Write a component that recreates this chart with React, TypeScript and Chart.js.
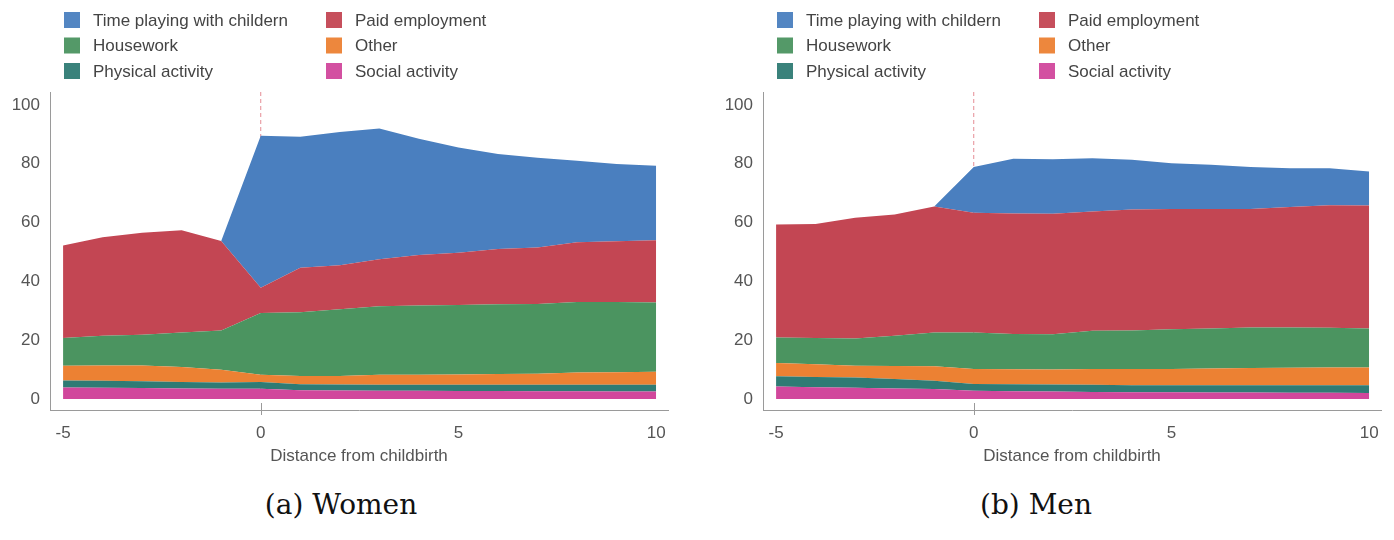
import React, { useEffect, useRef } from "react";
import { Chart, registerables } from "chart.js";

Chart.register(...registerables);

// ---------- data ----------
const years = [-5, -4, -3, -2, -1, 0, 1, 2, 3, 4, 5, 6, 7, 8, 9, 10];
const xTicks = [-5, 0, 5, 10];
const yTicks = [0, 20, 40, 60, 80, 100];
const xTitle = "Distance from childbirth";

// stacking order, bottom to top
const seriesNames = [
  "Social activity",
  "Physical activity",
  "Other",
  "Housework",
  "Paid employment",
  "Time playing with childern",
];
const seriesColors = ["#d1479c", "#2f7b74", "#ec8133", "#4b9460", "#c34653", "#4a7fbf"];

// legend order (two columns, row-major)
const legendOrder = [
  "Time playing with childern",
  "Paid employment",
  "Housework",
  "Other",
  "Physical activity",
  "Social activity",
];

// Women
const womenSocial = [3.9, 3.8, 3.7, 3.6, 3.5, 3.5, 3.0, 2.9, 2.8, 2.8, 2.7, 2.7, 2.6, 2.6, 2.5, 2.5];
const womenPhysical = [2.4, 2.4, 2.3, 2.2, 2.1, 2.3, 2.0, 2.0, 2.0, 2.0, 2.1, 2.1, 2.2, 2.2, 2.3, 2.3];
const womenOther = [5.0, 5.2, 5.4, 5.1, 4.3, 2.4, 2.8, 2.9, 3.4, 3.4, 3.5, 3.7, 3.8, 4.2, 4.3, 4.5];
const womenHousework = [9.4, 10.1, 10.4, 11.7, 13.4, 21.0, 21.7, 22.7, 23.3, 23.6, 23.7, 23.7, 23.7, 24.0, 23.9, 23.5];
const womenPaid = [31.5, 33.5, 34.7, 34.8, 30.4, 8.6, 15.1, 15.0, 16.0, 17.2, 17.7, 18.8, 19.2, 20.3, 20.6, 21.2];
const womenPlaying = [0, 0, 0, 0, 0, 51.7, 44.6, 45.3, 44.5, 39.5, 35.8, 32.3, 30.5, 27.7, 26.3, 25.3];

// Men
const menSocial = [4.2, 4.0, 3.8, 3.6, 3.4, 2.8, 2.6, 2.5, 2.4, 2.3, 2.3, 2.2, 2.2, 2.1, 2.1, 2.0];
const menPhysical = [3.5, 3.5, 3.5, 3.2, 2.8, 2.3, 2.4, 2.4, 2.4, 2.4, 2.4, 2.5, 2.5, 2.6, 2.6, 2.7];
const menOther = [4.5, 4.3, 4.0, 4.4, 4.9, 5.1, 5.1, 5.1, 5.4, 5.5, 5.5, 5.7, 5.8, 5.9, 6.0, 6.0];
const menHousework = [8.7, 8.9, 9.3, 10.3, 11.5, 12.4, 12.0, 12.0, 13.0, 13.1, 13.5, 13.6, 13.8, 13.7, 13.5, 13.3];
const menPaid = [38.4, 38.8, 41.0, 41.2, 42.9, 40.7, 41.0, 41.0, 40.6, 41.1, 40.9, 40.6, 40.3, 41.0, 41.7, 41.8];
const menPlaying = [0, 0, 0, 0, 0, 15.6, 18.6, 18.5, 18.1, 17.0, 15.6, 15.1, 14.3, 13.2, 12.6, 11.6];

const womenSeries = [womenSocial, womenPhysical, womenOther, womenHousework, womenPaid, womenPlaying];
const menSeries = [menSocial, menPhysical, menOther, menHousework, menPaid, menPlaying];

// ---------- styling ----------
const SANS = "'Liberation Sans', Arial, Helvetica, sans-serif";
const TEXT = "#555555";
const CANVAS_W = 690;
const CANVAS_H = 475;

const decorPlugin = {
  id: "decor",
  beforeDatasetsDraw(chart: any) {
    const { ctx, chartArea, scales } = chart;
    const x0 = scales.x.getPixelForValue(0);
    const yZero = scales.y.getPixelForValue(0);
    ctx.save();
    ctx.strokeStyle = "#e58c94";
    ctx.lineWidth = 1;
    ctx.setLineDash([4, 3]);
    ctx.beginPath();
    ctx.moveTo(x0, chartArea.top);
    ctx.lineTo(x0, yZero);
    ctx.stroke();
    ctx.restore();
  },
  afterDraw(chart: any) {
    const { ctx, chartArea, scales } = chart;
    const x0 = scales.x.getPixelForValue(0);
    ctx.save();
    // small tick at zero
    ctx.strokeStyle = "#9a9a9a";
    ctx.lineWidth = 1;
    ctx.beginPath();
    ctx.moveTo(Math.round(x0) + 0.5, chartArea.bottom - 7);
    ctx.lineTo(Math.round(x0) + 0.5, chartArea.bottom + 5);
    ctx.stroke();

    // legend
    const colX = [chartArea.left + 14, chartArea.left + 276];
    const rowY = [20, 45.5, 71];
    ctx.font = `17px ${SANS}`;
    ctx.textBaseline = "middle";
    ctx.textAlign = "left";
    legendOrder.forEach((name, i) => {
      const c = i % 2;
      const r = Math.floor(i / 2);
      const idx = seriesNames.indexOf(name);
      ctx.fillStyle = seriesColors[idx];
      ctx.globalAlpha = 0.95;
      ctx.fillRect(colX[c], rowY[r] - 8, 16, 16);
      ctx.globalAlpha = 1;
      ctx.fillStyle = "#444444";
      ctx.fillText(name, colX[c] + 29, rowY[r] + 1);
    });
    ctx.restore();
  },
};

function StackedPanel({
  series,
  left,
  caption,
  captionCenter,
}: {
  series: number[][];
  left: number;
  caption: string;
  captionCenter: number;
}) {
  const ref = useRef<HTMLCanvasElement | null>(null);

  useEffect(() => {
    if (!ref.current) return;
    const datasets = series.map((vals, i) => ({
      label: seriesNames[i],
      data: years.map((x, j) => ({ x, y: vals[j] })),
      backgroundColor: seriesColors[i],
      borderColor: seriesColors[i],
      borderWidth: 0,
      pointRadius: 0,
      tension: 0,
      fill: i === 0 ? "origin" : "-1",
    }));
    const chart = new Chart(ref.current, {
      type: "line",
      data: { datasets },
      plugins: [decorPlugin],
      options: {
        animation: false,
        responsive: false,
        maintainAspectRatio: false,
        layout: { padding: { top: 92, right: CANVAS_W - 668, left: 0, bottom: 0 } },
        plugins: { legend: { display: false }, tooltip: { enabled: false } },
        scales: {
          x: {
            type: "linear",
            min: -5.33,
            max: 10.3,
            grid: { display: false, drawTicks: false },
            border: { display: true, color: "#9a9a9a", width: 1 },
            ticks: {
              color: TEXT,
              font: { size: 17, family: SANS },
              padding: 13,
              autoSkip: false,
              maxRotation: 0,
            },
            afterBuildTicks: (s: any) => {
              s.ticks = xTicks.map((v) => ({ value: v }));
            },
            afterFit: (s: any) => {
              s.height = CANVAS_H - 410;
            },
            title: {
              display: true,
              text: xTitle,
              color: TEXT,
              font: { size: 17, family: SANS },
              padding: { top: 0, bottom: 8 },
            },
          },
          y: {
            stacked: true,
            min: -3.75,
            max: 104.4,
            grid: { display: false, drawTicks: false },
            border: { display: true, color: "#9a9a9a", width: 1 },
            ticks: {
              color: TEXT,
              font: { size: 17, family: SANS },
              padding: 10,
              autoSkip: false,
            },
            afterBuildTicks: (s: any) => {
              s.ticks = yTicks.map((v) => ({ value: v }));
            },
            afterFit: (s: any) => {
              s.width = 50;
            },
          },
        },
      } as any,
    });
    return () => chart.destroy();
  }, [series]);

  return (
    <>
      <canvas
        ref={ref}
        width={CANVAS_W}
        height={CANVAS_H}
        style={{ position: "absolute", left, top: 0, width: CANVAS_W, height: CANVAS_H }}
      />
      <div
        style={{
          position: "absolute",
          left: captionCenter - 200,
          width: 400,
          top: 488,
          textAlign: "center",
          fontFamily: "'DejaVu Serif', serif",
          fontSize: 28,
          lineHeight: "34px",
          color: "#111",
        }}
      >
        {caption}
      </div>
    </>
  );
}

export default function App() {
  return (
    <div style={{ position: "absolute", left: 0, top: 0, width: 1394, height: 540, background: "#fff", overflow: "hidden" }}>
      <StackedPanel series={womenSeries} left={0} caption="(a) Women" captionCenter={341} />
      <StackedPanel series={menSeries} left={713} caption="(b) Men" captionCenter={1036} />
    </div>
  );
}
